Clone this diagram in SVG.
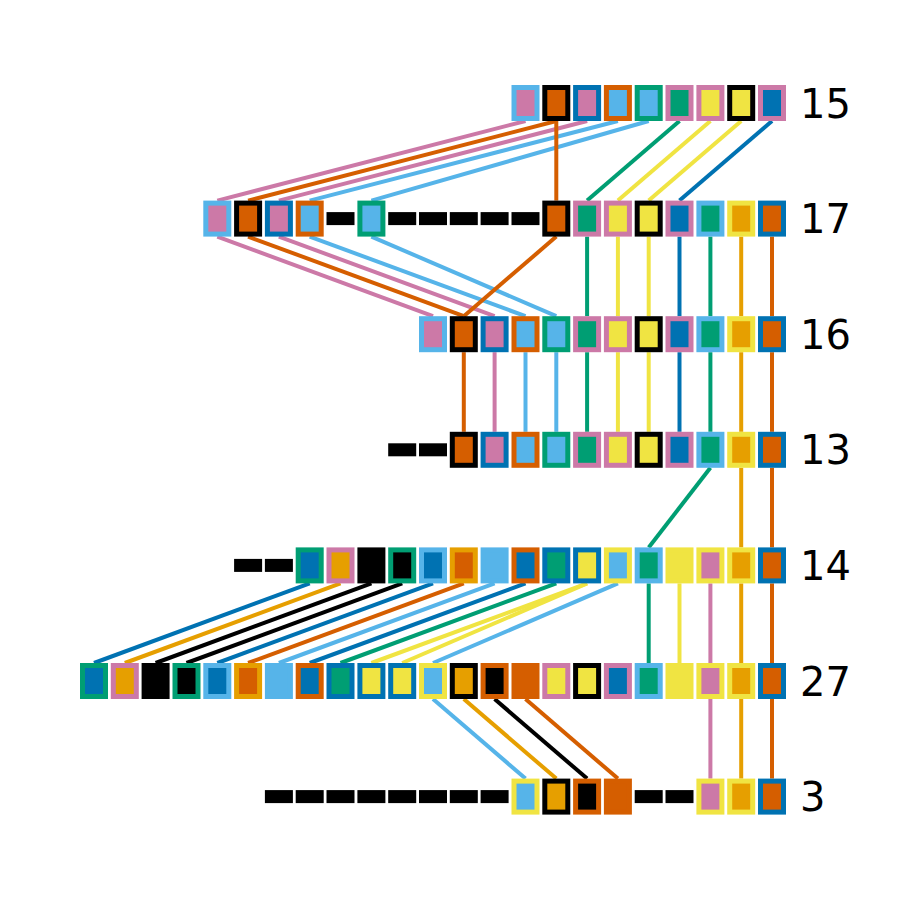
<svg xmlns="http://www.w3.org/2000/svg" width="900" height="900" viewBox="0 0 900 900">
<style>
.b{stroke-width:5}
.d{fill:#000000}
line{stroke-width:4;fill:none}
.s-bk{stroke:#000000}.s-or{stroke:#E69F00}.s-sb{stroke:#56B4E9}.s-gr{stroke:#009E73}.s-ye{stroke:#F0E442}.s-bl{stroke:#0072B2}.s-ve{stroke:#D55E00}.s-pk{stroke:#CC79A7}
.f-bk{fill:#000000}.f-or{fill:#E69F00}.f-sb{fill:#56B4E9}.f-gr{fill:#009E73}.f-ye{fill:#F0E442}.f-bl{fill:#0072B2}.f-ve{fill:#D55E00}.f-pk{fill:#CC79A7}
.lbl{font-family:"DejaVu Sans","Liberation Sans",sans-serif;font-size:40px;fill:#000000}
</style>
<rect width="900" height="900" fill="#ffffff"/>
<g id="connectors">
<line class="s-pk" x1="525.5" y1="121" x2="217.3" y2="200.6"/>
<line class="s-ve" x1="556.3" y1="121" x2="248.1" y2="200.6"/>
<line class="s-pk" x1="587.1" y1="121" x2="278.9" y2="200.6"/>
<line class="s-sb" x1="617.9" y1="121" x2="309.7" y2="200.6"/>
<line class="s-sb" x1="648.7" y1="121" x2="371.4" y2="200.6"/>
<line class="s-ve" x1="556.3" y1="121" x2="556.3" y2="200.6"/>
<line class="s-gr" x1="679.5" y1="121" x2="587.1" y2="200.6"/>
<line class="s-ye" x1="710.4" y1="121" x2="617.9" y2="200.6"/>
<line class="s-ye" x1="741.2" y1="121" x2="648.7" y2="200.6"/>
<line class="s-bl" x1="772.0" y1="121" x2="679.5" y2="200.6"/>

<line class="s-pk" x1="217.3" y1="236.6" x2="433.0" y2="316.2"/>
<line class="s-ve" x1="248.1" y1="236.6" x2="463.8" y2="316.2"/>
<line class="s-pk" x1="278.9" y1="236.6" x2="494.6" y2="316.2"/>
<line class="s-sb" x1="309.7" y1="236.6" x2="525.5" y2="316.2"/>
<line class="s-sb" x1="371.4" y1="236.6" x2="556.3" y2="316.2"/>
<line class="s-ve" x1="556.3" y1="236.6" x2="463.8" y2="316.2"/>
<line class="s-gr" x1="587.1" y1="236.6" x2="587.1" y2="316.2"/>
<line class="s-ye" x1="617.9" y1="236.6" x2="617.9" y2="316.2"/>
<line class="s-ye" x1="648.7" y1="236.6" x2="648.7" y2="316.2"/>
<line class="s-bl" x1="679.5" y1="236.6" x2="679.5" y2="316.2"/>
<line class="s-gr" x1="710.4" y1="236.6" x2="710.4" y2="316.2"/>
<line class="s-or" x1="741.2" y1="236.6" x2="741.2" y2="316.2"/>
<line class="s-ve" x1="772.0" y1="236.6" x2="772.0" y2="316.2"/>

<line class="s-ve" x1="463.8" y1="352.2" x2="463.8" y2="431.8"/>
<line class="s-pk" x1="494.6" y1="352.2" x2="494.6" y2="431.8"/>
<line class="s-sb" x1="525.5" y1="352.2" x2="525.5" y2="431.8"/>
<line class="s-sb" x1="556.3" y1="352.2" x2="556.3" y2="431.8"/>
<line class="s-gr" x1="587.1" y1="352.2" x2="587.1" y2="431.8"/>
<line class="s-ye" x1="617.9" y1="352.2" x2="617.9" y2="431.8"/>
<line class="s-ye" x1="648.7" y1="352.2" x2="648.7" y2="431.8"/>
<line class="s-bl" x1="679.5" y1="352.2" x2="679.5" y2="431.8"/>
<line class="s-gr" x1="710.4" y1="352.2" x2="710.4" y2="431.8"/>
<line class="s-or" x1="741.2" y1="352.2" x2="741.2" y2="431.8"/>
<line class="s-ve" x1="772.0" y1="352.2" x2="772.0" y2="431.8"/>

<line class="s-gr" x1="710.4" y1="467.8" x2="648.7" y2="547.4"/>
<line class="s-or" x1="741.2" y1="467.8" x2="741.2" y2="547.4"/>
<line class="s-ve" x1="772.0" y1="467.8" x2="772.0" y2="547.4"/>

<line class="s-bl" x1="309.7" y1="583.4" x2="94.0" y2="663"/>
<line class="s-or" x1="340.5" y1="583.4" x2="124.8" y2="663"/>
<line class="s-bk" x1="371.4" y1="583.4" x2="155.6" y2="663"/>
<line class="s-bk" x1="402.2" y1="583.4" x2="186.5" y2="663"/>
<line class="s-bl" x1="433.0" y1="583.4" x2="217.3" y2="663"/>
<line class="s-ve" x1="463.8" y1="583.4" x2="248.1" y2="663"/>
<line class="s-sb" x1="494.6" y1="583.4" x2="278.9" y2="663"/>
<line class="s-bl" x1="525.5" y1="583.4" x2="309.7" y2="663"/>
<line class="s-gr" x1="556.3" y1="583.4" x2="340.5" y2="663"/>
<line class="s-ye" x1="587.1" y1="583.4" x2="371.4" y2="663"/>
<line class="s-ye" x1="587.1" y1="583.4" x2="402.2" y2="663"/>
<line class="s-sb" x1="617.9" y1="583.4" x2="433.0" y2="663"/>
<line class="s-gr" x1="648.7" y1="583.4" x2="648.7" y2="663"/>
<line class="s-ye" x1="679.5" y1="583.4" x2="679.5" y2="663"/>
<line class="s-pk" x1="710.4" y1="583.4" x2="710.4" y2="663"/>
<line class="s-or" x1="741.2" y1="583.4" x2="741.2" y2="663"/>
<line class="s-ve" x1="772.0" y1="583.4" x2="772.0" y2="663"/>

<line class="s-sb" x1="433.0" y1="699" x2="525.5" y2="778.6"/>
<line class="s-or" x1="463.8" y1="699" x2="556.3" y2="778.6"/>
<line class="s-bk" x1="494.6" y1="699" x2="587.1" y2="778.6"/>
<line class="s-ve" x1="525.5" y1="699" x2="617.9" y2="778.6"/>
<line class="s-pk" x1="710.4" y1="699" x2="710.4" y2="778.6"/>
<line class="s-or" x1="741.2" y1="699" x2="741.2" y2="778.6"/>
<line class="s-ve" x1="772.0" y1="699" x2="772.0" y2="778.6"/>
</g>

<g id="row15">
<g id="n15-14"><rect class="b s-sb f-pk" x="514.0" y="87.5" width="23" height="31"/></g>
<g id="n15-15"><rect class="b s-bk f-ve" x="544.8" y="87.5" width="23" height="31"/></g>
<g id="n15-16"><rect class="b s-bl f-pk" x="575.6" y="87.5" width="23" height="31"/></g>
<g id="n15-17"><rect class="b s-ve f-sb" x="606.4" y="87.5" width="23" height="31"/></g>
<g id="n15-18"><rect class="b s-gr f-sb" x="637.2" y="87.5" width="23" height="31"/></g>
<g id="n15-19"><rect class="b s-pk f-gr" x="668.0" y="87.5" width="23" height="31"/></g>
<g id="n15-20"><rect class="b s-pk f-ye" x="698.9" y="87.5" width="23" height="31"/></g>
<g id="n15-21"><rect class="b s-bk f-ye" x="729.7" y="87.5" width="23" height="31"/></g>
<g id="n15-22"><rect class="b s-pk f-bl" x="760.5" y="87.5" width="23" height="31"/></g>
<text class="lbl" x="800" y="117.6">15</text>
</g>

<g id="row17">
<g id="n17-4"><rect class="b s-sb f-pk" x="205.8" y="203.1" width="23" height="31"/></g>
<g id="n17-5"><rect class="b s-bk f-ve" x="236.6" y="203.1" width="23" height="31"/></g>
<g id="n17-6"><rect class="b s-bl f-pk" x="267.4" y="203.1" width="23" height="31"/></g>
<g id="n17-7"><rect class="b s-ve f-sb" x="298.2" y="203.1" width="23" height="31"/></g>
<rect class="d" x="326.5" y="212.1" width="28" height="13"/>
<g id="n17-9"><rect class="b s-gr f-sb" x="359.9" y="203.1" width="23" height="31"/></g>
<rect class="d" x="388.2" y="212.1" width="28" height="13"/>
<rect class="d" x="419.0" y="212.1" width="28" height="13"/>
<rect class="d" x="449.8" y="212.1" width="28" height="13"/>
<rect class="d" x="480.6" y="212.1" width="28" height="13"/>
<rect class="d" x="511.5" y="212.1" width="28" height="13"/>
<g id="n17-15"><rect class="b s-bk f-ve" x="544.8" y="203.1" width="23" height="31"/></g>
<g id="n17-16"><rect class="b s-pk f-gr" x="575.6" y="203.1" width="23" height="31"/></g>
<g id="n17-17"><rect class="b s-pk f-ye" x="606.4" y="203.1" width="23" height="31"/></g>
<g id="n17-18"><rect class="b s-bk f-ye" x="637.2" y="203.1" width="23" height="31"/></g>
<g id="n17-19"><rect class="b s-pk f-bl" x="668.0" y="203.1" width="23" height="31"/></g>
<g id="n17-20"><rect class="b s-sb f-gr" x="698.9" y="203.1" width="23" height="31"/></g>
<g id="n17-21"><rect class="b s-ye f-or" x="729.7" y="203.1" width="23" height="31"/></g>
<g id="n17-22"><rect class="b s-bl f-ve" x="760.5" y="203.1" width="23" height="31"/></g>
<text class="lbl" x="800" y="233.2">17</text>
</g>

<g id="row16">
<g id="n16-11"><rect class="b s-sb f-pk" x="421.5" y="318.7" width="23" height="31"/></g>
<g id="n16-12"><rect class="b s-bk f-ve" x="452.3" y="318.7" width="23" height="31"/></g>
<g id="n16-13"><rect class="b s-bl f-pk" x="483.1" y="318.7" width="23" height="31"/></g>
<g id="n16-14"><rect class="b s-ve f-sb" x="514.0" y="318.7" width="23" height="31"/></g>
<g id="n16-15"><rect class="b s-gr f-sb" x="544.8" y="318.7" width="23" height="31"/></g>
<g id="n16-16"><rect class="b s-pk f-gr" x="575.6" y="318.7" width="23" height="31"/></g>
<g id="n16-17"><rect class="b s-pk f-ye" x="606.4" y="318.7" width="23" height="31"/></g>
<g id="n16-18"><rect class="b s-bk f-ye" x="637.2" y="318.7" width="23" height="31"/></g>
<g id="n16-19"><rect class="b s-pk f-bl" x="668.0" y="318.7" width="23" height="31"/></g>
<g id="n16-20"><rect class="b s-sb f-gr" x="698.9" y="318.7" width="23" height="31"/></g>
<g id="n16-21"><rect class="b s-ye f-or" x="729.7" y="318.7" width="23" height="31"/></g>
<g id="n16-22"><rect class="b s-bl f-ve" x="760.5" y="318.7" width="23" height="31"/></g>
<text class="lbl" x="800" y="348.8">16</text>
</g>

<g id="row13">
<rect class="d" x="388.2" y="443.3" width="28" height="13"/>
<rect class="d" x="419.0" y="443.3" width="28" height="13"/>
<g id="n13-12"><rect class="b s-bk f-ve" x="452.3" y="434.3" width="23" height="31"/></g>
<g id="n13-13"><rect class="b s-bl f-pk" x="483.1" y="434.3" width="23" height="31"/></g>
<g id="n13-14"><rect class="b s-ve f-sb" x="514.0" y="434.3" width="23" height="31"/></g>
<g id="n13-15"><rect class="b s-gr f-sb" x="544.8" y="434.3" width="23" height="31"/></g>
<g id="n13-16"><rect class="b s-pk f-gr" x="575.6" y="434.3" width="23" height="31"/></g>
<g id="n13-17"><rect class="b s-pk f-ye" x="606.4" y="434.3" width="23" height="31"/></g>
<g id="n13-18"><rect class="b s-bk f-ye" x="637.2" y="434.3" width="23" height="31"/></g>
<g id="n13-19"><rect class="b s-pk f-bl" x="668.0" y="434.3" width="23" height="31"/></g>
<g id="n13-20"><rect class="b s-sb f-gr" x="698.9" y="434.3" width="23" height="31"/></g>
<g id="n13-21"><rect class="b s-ye f-or" x="729.7" y="434.3" width="23" height="31"/></g>
<g id="n13-22"><rect class="b s-bl f-ve" x="760.5" y="434.3" width="23" height="31"/></g>
<text class="lbl" x="800" y="464.4">13</text>
</g>

<g id="row14">
<rect class="d" x="234.1" y="558.9" width="28" height="13"/>
<rect class="d" x="264.9" y="558.9" width="28" height="13"/>
<g id="n14-7"><rect class="b s-gr f-bl" x="298.2" y="549.9" width="23" height="31"/></g>
<g id="n14-8"><rect class="b s-pk f-or" x="329.0" y="549.9" width="23" height="31"/></g>
<g id="n14-9"><rect class="b s-bk f-bk" x="359.9" y="549.9" width="23" height="31"/></g>
<g id="n14-10"><rect class="b s-gr f-bk" x="390.7" y="549.9" width="23" height="31"/></g>
<g id="n14-11"><rect class="b s-sb f-bl" x="421.5" y="549.9" width="23" height="31"/></g>
<g id="n14-12"><rect class="b s-or f-ve" x="452.3" y="549.9" width="23" height="31"/></g>
<g id="n14-13"><rect class="b s-sb f-sb" x="483.1" y="549.9" width="23" height="31"/></g>
<g id="n14-14"><rect class="b s-ve f-bl" x="514.0" y="549.9" width="23" height="31"/></g>
<g id="n14-15"><rect class="b s-bl f-gr" x="544.8" y="549.9" width="23" height="31"/></g>
<g id="n14-16"><rect class="b s-bl f-ye" x="575.6" y="549.9" width="23" height="31"/></g>
<g id="n14-17"><rect class="b s-ye f-sb" x="606.4" y="549.9" width="23" height="31"/></g>
<g id="n14-18"><rect class="b s-sb f-gr" x="637.2" y="549.9" width="23" height="31"/></g>
<g id="n14-19"><rect class="b s-ye f-ye" x="668.0" y="549.9" width="23" height="31"/></g>
<g id="n14-20"><rect class="b s-ye f-pk" x="698.9" y="549.9" width="23" height="31"/></g>
<g id="n14-21"><rect class="b s-ye f-or" x="729.7" y="549.9" width="23" height="31"/></g>
<g id="n14-22"><rect class="b s-bl f-ve" x="760.5" y="549.9" width="23" height="31"/></g>
<text class="lbl" x="800" y="580.0">14</text>
</g>

<g id="row27">
<g id="n27-0"><rect class="b s-gr f-bl" x="82.5" y="665.5" width="23" height="31"/></g>
<g id="n27-1"><rect class="b s-pk f-or" x="113.3" y="665.5" width="23" height="31"/></g>
<g id="n27-2"><rect class="b s-bk f-bk" x="144.1" y="665.5" width="23" height="31"/></g>
<g id="n27-3"><rect class="b s-gr f-bk" x="175.0" y="665.5" width="23" height="31"/></g>
<g id="n27-4"><rect class="b s-sb f-bl" x="205.8" y="665.5" width="23" height="31"/></g>
<g id="n27-5"><rect class="b s-or f-ve" x="236.6" y="665.5" width="23" height="31"/></g>
<g id="n27-6"><rect class="b s-sb f-sb" x="267.4" y="665.5" width="23" height="31"/></g>
<g id="n27-7"><rect class="b s-ve f-bl" x="298.2" y="665.5" width="23" height="31"/></g>
<g id="n27-8"><rect class="b s-bl f-gr" x="329.0" y="665.5" width="23" height="31"/></g>
<g id="n27-9"><rect class="b s-bl f-ye" x="359.9" y="665.5" width="23" height="31"/></g>
<g id="n27-10"><rect class="b s-bl f-ye" x="390.7" y="665.5" width="23" height="31"/></g>
<g id="n27-11"><rect class="b s-ye f-sb" x="421.5" y="665.5" width="23" height="31"/></g>
<g id="n27-12"><rect class="b s-bk f-or" x="452.3" y="665.5" width="23" height="31"/></g>
<g id="n27-13"><rect class="b s-ve f-bk" x="483.1" y="665.5" width="23" height="31"/></g>
<g id="n27-14"><rect class="b s-ve f-ve" x="514.0" y="665.5" width="23" height="31"/></g>
<g id="n27-15"><rect class="b s-pk f-ye" x="544.8" y="665.5" width="23" height="31"/></g>
<g id="n27-16"><rect class="b s-bk f-ye" x="575.6" y="665.5" width="23" height="31"/></g>
<g id="n27-17"><rect class="b s-pk f-bl" x="606.4" y="665.5" width="23" height="31"/></g>
<g id="n27-18"><rect class="b s-sb f-gr" x="637.2" y="665.5" width="23" height="31"/></g>
<g id="n27-19"><rect class="b s-ye f-ye" x="668.0" y="665.5" width="23" height="31"/></g>
<g id="n27-20"><rect class="b s-ye f-pk" x="698.9" y="665.5" width="23" height="31"/></g>
<g id="n27-21"><rect class="b s-ye f-or" x="729.7" y="665.5" width="23" height="31"/></g>
<g id="n27-22"><rect class="b s-bl f-ve" x="760.5" y="665.5" width="23" height="31"/></g>
<text class="lbl" x="800" y="695.6">27</text>
</g>

<g id="row3">
<rect class="d" x="264.9" y="790.1" width="28" height="13"/>
<rect class="d" x="295.7" y="790.1" width="28" height="13"/>
<rect class="d" x="326.5" y="790.1" width="28" height="13"/>
<rect class="d" x="357.4" y="790.1" width="28" height="13"/>
<rect class="d" x="388.2" y="790.1" width="28" height="13"/>
<rect class="d" x="419.0" y="790.1" width="28" height="13"/>
<rect class="d" x="449.8" y="790.1" width="28" height="13"/>
<rect class="d" x="480.6" y="790.1" width="28" height="13"/>
<g id="n3-14"><rect class="b s-ye f-sb" x="514.0" y="781.1" width="23" height="31"/></g>
<g id="n3-15"><rect class="b s-bk f-or" x="544.8" y="781.1" width="23" height="31"/></g>
<g id="n3-16"><rect class="b s-ve f-bk" x="575.6" y="781.1" width="23" height="31"/></g>
<g id="n3-17"><rect class="b s-ve f-ve" x="606.4" y="781.1" width="23" height="31"/></g>
<rect class="d" x="634.7" y="790.1" width="28" height="13"/>
<rect class="d" x="665.5" y="790.1" width="28" height="13"/>
<g id="n3-20"><rect class="b s-ye f-pk" x="698.9" y="781.1" width="23" height="31"/></g>
<g id="n3-21"><rect class="b s-ye f-or" x="729.7" y="781.1" width="23" height="31"/></g>
<g id="n3-22"><rect class="b s-bl f-ve" x="760.5" y="781.1" width="23" height="31"/></g>
<text class="lbl" x="800" y="811.2">3</text>
</g>
</svg>
